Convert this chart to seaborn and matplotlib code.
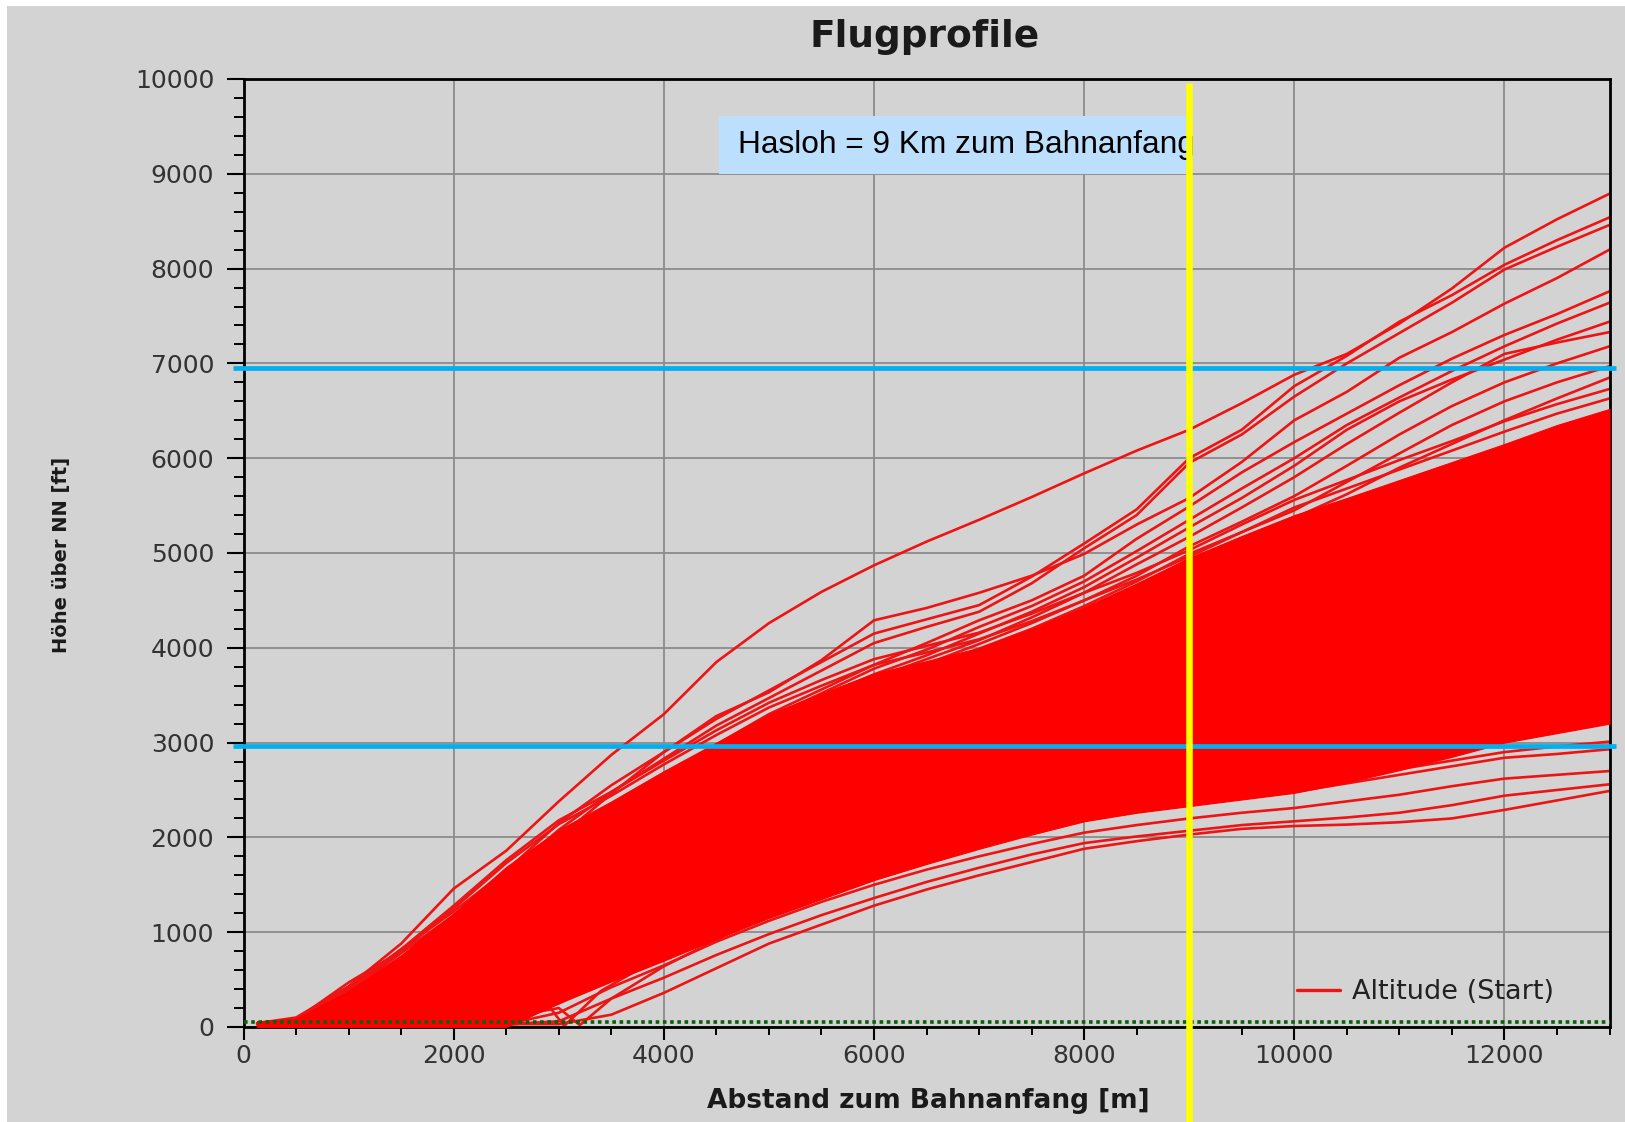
import numpy as np
import pandas as pd
import matplotlib
matplotlib.use("Agg")
import matplotlib.pyplot as plt
from matplotlib.patches import Rectangle
from matplotlib.lines import Line2D
from matplotlib.ticker import MultipleLocator
from matplotlib import font_manager
import seaborn as sns

# Distance from the start of the runway [m]
abstand_m = [130, 500, 1000, 1500, 2000, 2500, 3000, 3500, 4000, 4500, 5000, 5500, 6000,
             6500, 7000, 7500, 8000, 8500, 9000, 9500, 10000, 10500, 11000, 11500, 12000,
             12500, 13000]

# Envelope of the densely packed bulk of departures [ft]
kern_oben = [60, 90, 380, 760, 1200, 1690, 2080, 2380, 2700, 3000, 3300, 3520, 3730,
             3860, 4000, 4200, 4430, 4680, 4950, 5180, 5400, 5580, 5770, 5960, 6150,
             6350, 6520]
kern_unten = [0, 0, 0, 0, 0, 0, 250, 480, 700, 930, 1150, 1350, 1550,
              1720, 1880, 2030, 2170, 2260, 2330, 2400, 2470, 2580, 2710, 2850, 3000,
              3100, 3200]

# Individual departures outside the bulk [ft]
flug_a = [40, 100, 430, 880, 1460, 1860, 2380, 2870, 3300, 3850, 4260, 4590, 4870,
          5120, 5350, 5590, 5840, 6080, 6300, 6580, 6880, 7100, 7420, 7790, 8220, 8520, 8790]
flug_s1 = [40, 80, 400, 820, 1220, 1650, 2150, 2550, 2900, 3250, 3550, 3850, 4150,
           4300, 4450, 4750, 5100, 5460, 6000, 6300, 6760, 7080, 7440, 7720, 8040, 8300, 8540]
flug_s2 = [40, 70, 370, 780, 1180, 1600, 2080, 2480, 2830, 3180, 3470, 3760, 4050,
           4220, 4380, 4680, 5050, 5400, 5950, 6250, 6650, 7000, 7320, 7640, 7990, 8230, 8460]
flug_b = [40, 80, 470, 800, 1150, 1550, 2000, 2460, 2900, 3280, 3530, 3870, 4290,
          4420, 4580, 4760, 4990, 5300, 5580, 5960, 6400, 6700, 7060, 7330, 7630, 7900, 8200]
flug_c = [40, 60, 300, 700, 1100, 1520, 1950, 2300, 2650, 2980, 3300, 3560, 3820,
          4050, 4290, 4500, 4760, 5150, 5490, 5850, 6170, 6470, 6770, 7050, 7300, 7520, 7760]
flug_d = [40, 60, 280, 680, 1080, 1500, 1920, 2280, 2620, 2950, 3260, 3520, 3780,
          3980, 4220, 4440, 4700, 5020, 5350, 5680, 6000, 6350, 6640, 6920, 7180, 7420, 7640]
flug_e = [40, 60, 270, 660, 1060, 1480, 1900, 2250, 2600, 2920, 3220, 3480, 3720,
          3920, 4150, 4380, 4640, 4950, 5270, 5580, 5920, 6300, 6600, 6830, 7040, 7250, 7440]
flug_f = [40, 60, 260, 650, 1040, 1460, 1880, 2230, 2570, 2890, 3180, 3440, 3680,
          3880, 4080, 4320, 4580, 4880, 5170, 5480, 5800, 6150, 6480, 6800, 7100, 7220, 7330]
flug_g = [40, 60, 260, 640, 1030, 1440, 1860, 2200, 2540, 2860, 3150, 3400, 3640,
          3830, 4040, 4260, 4500, 4760, 5070, 5330, 5600, 5920, 6250, 6550, 6800, 7000, 7180]
flug_h = [40, 60, 240, 620, 1010, 1420, 1840, 2180, 2510, 2830, 3110, 3360, 3600,
          3790, 3990, 4200, 4440, 4700, 4990, 5220, 5450, 5750, 6050, 6350, 6600, 6800, 6970]
flug_i = [40, 60, 240, 610, 1000, 1410, 1820, 2160, 2490, 2800, 3080, 3330, 3560,
          3750, 3950, 4150, 4400, 4650, 4930, 5140, 5370, 5620, 5900, 6150, 6400, 6630, 6850]
flug_m1 = [40, 75, 420, 820, 1280, 1760, 2180, 2480, 2810, 3130, 3420, 3660, 3880,
           4020, 4160, 4360, 4580, 4790, 5030, 5300, 5560, 5770, 5980, 6180, 6390, 6570, 6730]
flug_m2 = [40, 70, 400, 800, 1250, 1730, 2140, 2440, 2770, 3080, 3370, 3600, 3820,
           3950, 4090, 4280, 4500, 4720, 4960, 5220, 5480, 5680, 5880, 6080, 6280, 6470, 6630]
flug_l1 = [30, 30, 30, 30, 30, 30, 30, 130, 360, 620, 880, 1080, 1280,
           1450, 1600, 1740, 1880, 1960, 2030, 2090, 2120, 2135, 2160, 2200, 2290, 2390, 2490]
flug_l2 = [30, 30, 30, 30, 30, 30, 60, 300, 520, 760, 980, 1180, 1360,
           1530, 1680, 1820, 1940, 2010, 2070, 2130, 2170, 2210, 2260, 2340, 2440, 2500, 2560]
flug_l3 = [30, 30, 30, 30, 30, 30, 150, 420, 650, 900, 1120, 1320, 1500,
           1660, 1800, 1930, 2050, 2130, 2200, 2260, 2310, 2380, 2450, 2540, 2620, 2660, 2700]
flug_l4 = [30, 30, 30, 30, 30, 40, 250, 520, 780, 1020, 1250, 1450, 1620,
           1780, 1920, 2060, 2180, 2270, 2350, 2420, 2480, 2570, 2660, 2750, 2840, 2880, 2930]
flug_l5 = [30, 30, 30, 30, 30, 60, 280, 560, 820, 1060, 1290, 1490, 1660,
           1820, 1960, 2100, 2220, 2310, 2390, 2460, 2540, 2630, 2720, 2810, 2900, 2960, 3010]

# Departures with irregular early profiles (own distance samples)
knick_x = [130, 500, 700, 1000, 1100, 1200, 1500, 2000, 2500, 3000, 3500, 4000, 5000,
           6000, 7000, 8000, 9000, 10000, 11000, 12000, 13000]
knick_y = [40, 80, 160, 370, 500, 420, 660, 1080, 1500, 1900, 2300, 2650, 3150,
           3550, 3850, 4200, 4600, 5000, 5450, 5900, 6300]
v1_x = [130, 1000, 2000, 2400, 2800, 3000, 3200, 3500, 4000, 5000, 6000, 7000, 8000,
        9000, 10000, 11000, 12000, 13000]
v1_y = [30, 30, 30, 30, 160, 200, 20, 300, 640, 1200, 1620, 1950, 2250,
        2480, 2700, 2950, 3200, 3450]
v2_x = [130, 1000, 2000, 2600, 2900, 3050, 3400, 4000, 5000, 6000, 7000, 8000, 9000,
        10000, 11000, 12000, 13000]
v2_y = [30, 30, 30, 30, 230, 10, 380, 760, 1280, 1700, 2050, 2350, 2600,
        2850, 3100, 3350, 3600]

# Reference heights [ft] and marker distance [m]
grenze_oben = 6950
grenze_unten = 2960
bahnhoehe = 53
hasloh_m = 9000

flights = [
    ("A", abstand_m, flug_a), ("S1", abstand_m, flug_s1), ("S2", abstand_m, flug_s2),
    ("B", abstand_m, flug_b), ("C", abstand_m, flug_c), ("D", abstand_m, flug_d),
    ("E", abstand_m, flug_e), ("F", abstand_m, flug_f), ("G", abstand_m, flug_g),
    ("H", abstand_m, flug_h), ("I", abstand_m, flug_i), ("M1", abstand_m, flug_m1),
    ("M2", abstand_m, flug_m2), ("L1", abstand_m, flug_l1),
    ("L2", abstand_m, flug_l2), ("L3", abstand_m, flug_l3), ("L4", abstand_m, flug_l4),
    ("L5", abstand_m, flug_l5), ("K", knick_x, knick_y), ("V1", v1_x, v1_y),
    ("V2", v2_x, v2_y),
]
df = pd.concat(
    [pd.DataFrame({"flug": name, "abstand": xs, "hoehe": ys}) for name, xs, ys in flights],
    ignore_index=True,
)

sns.set_theme(style="white")
plt.rcParams["font.family"] = ["DejaVu Sans"]

available = {f.name for f in font_manager.fontManager.ttflist}
narrow = next((n for n in ["DejaVu Sans Condensed", "Liberation Sans Narrow"] if n in available),
              "DejaVu Sans")
arial_like = "Liberation Sans" if "Liberation Sans" in available else "DejaVu Sans"

W, H = 1625, 1122
fig = plt.figure(figsize=(W / 100, H / 100), dpi=100)
fig.patch.set_facecolor("white")
fig.add_artist(Rectangle((7 / W, 0), 1, 1 - 6 / H, transform=fig.transFigure,
                         facecolor="#d3d3d3", edgecolor="none", zorder=-10))

ax = fig.add_axes([243.6 / W, 1 - 1027 / H, (1609.5 - 243.6) / W, (1027 - 79) / H])
ax.set_facecolor("#d3d3d3")

red = "#ff0000"
sns.lineplot(data=df, x="abstand", y="hoehe", units="flug", estimator=None, sort=False,
             color="#ee1414", linewidth=1.9, legend=False, ax=ax, zorder=2.5)
ax.fill_between(abstand_m, kern_unten, kern_oben, color=red, linewidth=0.8, zorder=3)

# runway elevation
ax.plot([0, 13000], [bahnhoehe, bahnhoehe], color="#0a5f0a", lw=2.6,
        ls=(0, (1.0, 1.0)), zorder=4)

# altitude bands
for h in (grenze_oben, grenze_unten):
    ax.plot([-100, 13060], [h, h], color="#00b0f0", lw=3.4, clip_on=False,
            solid_capstyle="butt", zorder=5)

# annotation box
ax.add_patch(Rectangle((4520, 9000), 4470, 610, facecolor="#bbdffc", edgecolor="none",
                       zorder=6))
ax.text(4710, 9300, "Hasloh = 9 Km zum Bahnanfang", fontsize=22.8, family=arial_like,
        ha="left", va="center", color="black", zorder=6.5)

# distance marker
ax.plot([hasloh_m, hasloh_m], [-1010, 9960], color="#ffff00", lw=4.7, clip_on=False,
        solid_capstyle="butt", zorder=7)

ax.set_xlim(0, 13000)
ax.set_ylim(0, 10000)
ax.xaxis.set_major_locator(MultipleLocator(2000))
ax.xaxis.set_minor_locator(MultipleLocator(500))
ax.yaxis.set_major_locator(MultipleLocator(1000))
ax.yaxis.set_minor_locator(MultipleLocator(200))
ax.set_xlabel("")
ax.set_ylabel("")

ax.tick_params(axis="y", which="major", direction="out", length=12.2, width=1.5,
               color="black", labelcolor="#333333", labelsize=18, pad=9, left=True)
ax.tick_params(axis="y", which="minor", direction="out", length=7.2, width=1.4,
               color="black", left=True)
ax.tick_params(axis="x", which="major", direction="out", length=9.5, width=1.5,
               color="black", labelcolor="#333333", labelsize=18, pad=3, bottom=True)
ax.tick_params(axis="x", which="minor", direction="out", length=6, width=1.4,
               color="black", bottom=True)

ax.grid(True, which="major", color="#8c8c8c", lw=1.3)
ax.set_axisbelow(True)
for sp in ax.spines.values():
    sp.set_visible(True)
    sp.set_color("black")
    sp.set_linewidth(2)

handle = Line2D([], [], color="#ee1414", lw=2.4)
ax.legend([handle], ["Altitude (Start)"], loc="center left",
          bbox_to_anchor=(1297 / W, 1 - 992 / H), bbox_transform=fig.transFigure,
          frameon=False, borderpad=0, borderaxespad=0, handlelength=1.59,
          handletextpad=0.44, fontsize=19.5, labelcolor="#222222")

fig.text(925 / W, 1 - 37 / H, "Flugprofile", ha="center", va="center", fontsize=27,
         fontweight="bold", color="#1a1a1a")
fig.text(928 / W, 1 - 1101 / H, "Abstand zum Bahnanfang [m]", ha="center", va="center",
         fontsize=19, fontweight="bold", color="#1a1a1a")
fig.text(62 / W, 1 - 555 / H, "Höhe über NN [ft]", ha="center", va="center",
         rotation=90, fontsize=14, fontweight="bold", family=narrow, color="#1a1a1a")

fig.savefig("out.png", dpi=100, facecolor=fig.get_facecolor())
